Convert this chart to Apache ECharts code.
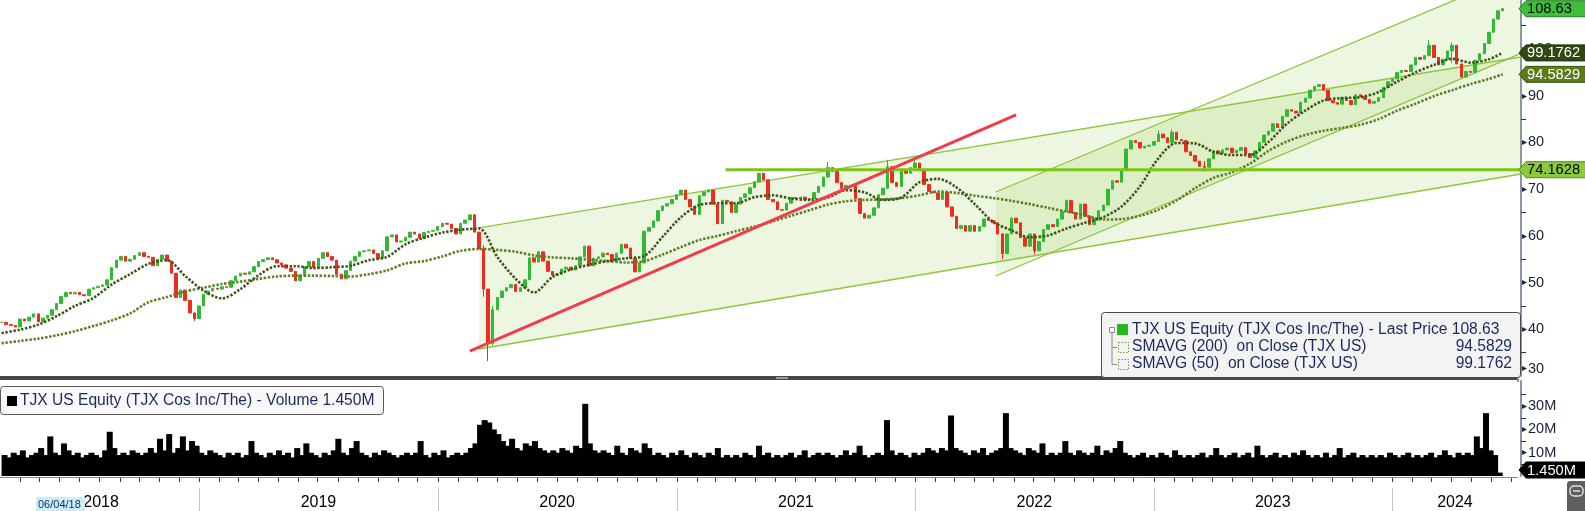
<!DOCTYPE html>
<html><head><meta charset="utf-8">
<script src="https://cdn.jsdelivr.net/npm/echarts@6/dist/echarts.min.js"></script>
<style>html,body{margin:0;padding:0;background:#fff;overflow:hidden}#c{width:1585px;height:511px}</style>
</head><body><div id="c"></div>
<script>
// ---------------- data ----------------
const weekStart = '2018-03-09';           // first weekly candle (Fridays)
const closes = [
41.5,41.0,40.8,40.5,42.2,41.8,42.6,43.3,41.6,42.4,
43.0,44.2,45.5,47.0,47.9,47.6,47.9,47.4,47.2,48.6,
48.9,49.2,49.5,50.6,53.2,54.8,55.6,54.6,55.0,55.8,
56.4,55.6,55.4,53.6,55.0,55.9,54.6,52.0,46.8,48.4,
46.2,43.5,42.3,45.0,47.5,48.2,48.8,48.6,49.1,49.0,
50.4,51.4,52.0,51.8,52.3,53.4,54.5,54.9,55.3,54.9,
54.2,53.8,53.1,52.4,50.4,51.6,53.4,54.5,53.2,55.2,
56.4,55.6,54.8,51.8,50.8,52.6,54.6,55.6,56.6,56.8,
57.0,56.2,55.2,56.8,59.8,60.2,58.7,58.9,59.7,60.8,
60.4,59.5,60.7,61.0,61.2,62.0,62.7,62.5,61.6,60.4,
62.7,63.4,64.5,60.8,57.2,48.6,37.0,44.2,46.8,48.2,
48.9,49.6,48.1,48.9,50.6,55.3,54.4,56.6,54.6,52.4,
51.6,51.8,52.9,53.3,52.7,53.6,55.5,57.8,53.6,55.2,
55.5,56.3,56.0,54.6,56.3,58.2,57.4,55.2,52.3,54.2,
61.0,61.8,63.2,65.4,66.4,66.9,67.8,68.8,69.8,67.8,
66.2,64.6,68.6,69.4,69.8,66.8,62.6,67.6,67.3,65.0,
66.8,68.2,69.0,70.3,71.6,73.4,72.0,67.8,67.3,65.6,
65.5,67.0,68.2,68.0,68.3,67.8,68.0,69.3,70.6,72.6,
74.6,73.8,71.4,70.2,70.8,70.8,68.0,64.8,63.8,64.4,
66.0,68.8,70.2,74.8,71.4,70.6,74.0,73.4,74.6,75.6,
74.0,71.0,69.5,69.2,67.8,69.4,66.2,64.2,61.6,62.2,
61.0,62.2,61.0,62.0,63.6,63.3,62.8,60.4,56.2,60.4,
63.8,62.8,59.6,57.8,60.4,56.8,58.8,61.4,62.4,62.0,
63.6,65.2,67.6,65.0,63.6,66.8,64.2,62.4,63.8,65.4,
66.6,70.0,71.8,71.5,74.0,78.6,80.4,80.0,78.8,79.2,
79.4,80.2,81.8,81.0,80.0,82.2,80.6,80.4,78.0,77.2,
76.0,74.9,74.7,76.5,78.2,77.6,78.4,78.8,77.8,78.3,
78.9,77.6,76.8,78.2,80.0,81.6,82.4,84.0,83.2,85.6,
87.0,86.7,86.3,88.6,89.5,91.2,92.0,92.4,91.2,89.0,
88.5,88.2,89.6,89.0,88.1,90.2,89.8,89.2,88.4,88.8,
89.6,91.8,93.0,93.6,95.0,95.4,95.2,96.6,98.2,97.8,
98.6,100.8,98.2,96.6,97.8,99.6,100.8,96.8,94.0,95.2,
95.0,97.6,99.0,101.2,103.6,106.4,108.2,108.63];

// notable intraweek extremes: [week index, low, high]
const wicks = [
[42,41.8,43.6],[105,47.0,58.0],[106,33.2,48.6],[107,36.5,45.0],[180,72.4,75.8],
[193,70.0,76.3],[199,74.2,76.4],[218,55.0,60.6],[225,56.0,59.6],[252,80.8,82.6],
[255,79.9,82.8],[262,73.8,76.0],[311,98.4,102.0],[316,97.0,101.4]];

const volumesM = [
9,8,10,9,11,8,9,10,12,9,
17,10,9,14,11,9,10,8,9,10,
9,8,11,19,12,9,10,9,11,10,
9,10,12,10,16,11,18,10,12,17,
11,15,13,10,9,11,10,9,8,10,
9,10,8,9,15,10,9,8,10,9,
11,9,10,8,12,9,14,10,9,8,
10,9,11,16,10,9,12,15,10,9,
8,10,9,11,10,9,8,9,10,9,
10,15,9,8,10,9,11,8,9,10,
9,10,12,14,22,24,23,20,18,15,
13,16,12,11,14,13,15,12,11,10,
11,10,12,11,10,13,12,31,14,11,
10,11,10,9,13,10,9,12,11,10,
14,12,9,10,9,8,10,9,11,9,
8,10,9,8,10,9,12,8,9,8,
9,8,10,9,8,13,9,10,8,9,
8,9,10,8,9,11,8,9,10,9,
10,9,8,9,11,9,10,13,9,8,
9,10,9,24,11,9,10,9,8,10,
9,10,12,11,10,12,11,26,12,11,
10,9,11,10,12,9,10,11,12,27,
12,11,10,9,12,11,10,14,9,10,
9,10,15,10,9,11,10,9,10,13,
9,11,10,12,15,10,9,8,9,10,
8,9,8,10,9,8,11,9,8,9,
8,9,10,8,9,12,9,8,9,10,
8,9,10,8,13,9,8,9,10,8,
9,8,10,9,11,9,8,9,8,10,
8,9,12,8,9,10,8,9,8,9,
8,9,8,10,9,8,9,10,8,9,
8,9,10,8,9,11,9,8,10,9,
10,9,17,12,27,11,9,1.45];

// moving averages, one reading every 4 weeks, plus the last week
const sma50 = [
39.2,39.9,41.0,42.8,45.0,46.7,49.6,51.8,54.0,54.8,
51.4,48.3,46.6,48.6,51.6,53.5,53.5,53.1,53.3,53.6,
54.8,55.5,58.2,59.6,60.7,61.3,61.6,55.5,50.8,47.9,
51.2,52.8,53.8,54.6,55.2,55.7,59.8,64.0,66.6,67.0,
67.0,68.3,68.7,68.0,67.7,68.2,69.8,69.3,67.7,68.2,
71.5,72.2,70.4,66.8,63.0,61.2,59.7,60.1,61.6,62.8,
64.0,66.3,70.6,76.6,79.9,79.8,78.0,77.3,77.3,80.1,
84.0,86.8,89.0,89.5,89.7,90.8,93.0,95.0,96.6,97.9,
97.1,97.8,99.1762];
const sma200 = [
37.0,37.5,38.0,38.7,39.6,40.7,41.9,43.4,45.8,46.9,
48.1,48.9,49.7,50.2,50.8,51.3,51.5,51.5,51.4,51.3,
51.8,52.6,54.1,54.6,55.6,56.8,57.2,57.0,56.6,55.8,
55.4,55.2,54.9,54.6,54.3,54.6,56.0,57.6,59.1,60.0,
61.0,62.0,63.1,64.3,65.5,66.7,67.4,67.7,67.8,68.1,
68.7,69.5,69.2,68.6,68.1,67.5,66.8,66.0,65.2,64.4,
63.5,63.6,64.3,65.6,67.6,70.2,72.4,73.6,75.5,78.2,
80.2,81.6,82.5,83.1,83.8,85.0,86.8,88.3,89.9,91.2,
92.5,93.6,94.5829];

const yearLabels = ['2018','2019','2020','2021','2022','2023','2024'];
const priceTickLabels = [30,40,50,60,70,80,90,100];
const volumeTickLabels = [10,20,30];
const xRange = ['2018-03-06T14:24:00Z','2024-07-12T00:00:00Z'];
const startDateText = '06/04/18';

// drawn annotations (date, price)
const channel1 = [['2020-03-06',61.69],['2024-07-12',98.30],['2024-07-12',73.25],['2020-03-06',35.78]];
const channel2 = [['2022-05-03',69.39],['2024-07-12',116.4],['2024-07-12',99.07],['2022-05-03',51.41]];
const redTrend = [['2020-02-21',35.35],['2022-06-03',85.88]];
const resistance = [['2021-03-17',74.1628],['2024-07-12',74.1628]];

const lastPrice = 108.63, lastSma200 = 94.5829, lastSma50 = 99.1762, lastVolumeM = 1.450;

// ---------------- build ----------------
const DAY = 86400000;
const T = s => Date.parse(s.length === 10 ? s + 'T00:00:00Z' : s);
const xMin = T(xRange[0]), xMax = T(xRange[1]);
const t0 = T(weekStart);
const weekTimes = closes.map((_, i) => t0 + i * 7 * DAY);
const wickMap = {};
wicks.forEach(w => { wickMap[w[0]] = w; });
const candles = closes.map((c, i) => {
  const o = i ? closes[i - 1] : c;
  let lo = Math.min(o, c), hi = Math.max(o, c);
  if (wickMap[i]) { lo = Math.min(lo, wickMap[i][1]); hi = Math.max(hi, wickMap[i][2]); }
  return [weekTimes[i], o, c, lo, hi];
});
const smaTimes = sma50.map((_, k) => k < sma50.length - 1 ? weekTimes[k * 4] : weekTimes[weekTimes.length - 1]);
const toPts = arr => arr.map(p => [T(p[0]), p[1]]);
const FONT = 'Liberation Sans';
const AXIS = '#8a94a8';
const EDGE = '#8dc63f';

const option = {
  animation: false,
  backgroundColor: '#ffffff',
  grid: [
    {left: 0, right: 64, top: 0, height: 376},
    {left: 0, right: 64, top: 381, height: 95}
  ],
  xAxis: [
    {type: 'time', gridIndex: 0, min: xMin, max: xMax, show: false},
    {type: 'time', gridIndex: 1, min: xMin, max: xMax, show: false}
  ],
  yAxis: [
    {type: 'value', gridIndex: 0, position: 'right', min: 30, max: 110.5, interval: 10,
      splitLine: {show: false},
      axisLine: {show: true, lineStyle: {color: AXIS, width: 2}},
      axisTick: {show: false},
      minorTick: {show: true, splitNumber: 2, length: 5, lineStyle: {color: '#2a2f45', width: 1}},
      axisLabel: {margin: 1, color: '#1a1f36', fontFamily: FONT, fontSize: 14.5,
        verticalAlignMinLabel: 'bottom',
        formatter: v => priceTickLabels.indexOf(v) >= 0 ? '{t|▸}' + v : '',
        rich: {t: {fontSize: 10, color: '#1a1f36', padding: [0, 1, 0, 0]}}}
    },
    {type: 'value', gridIndex: 1, position: 'right', min: 0, max: 40.8, interval: 10,
      splitLine: {show: false},
      axisLine: {show: true, lineStyle: {color: AXIS, width: 2}},
      axisTick: {show: false},
      minorTick: {show: true, splitNumber: 2, length: 5, lineStyle: {color: '#2a2f45', width: 1}},
      axisLabel: {margin: 1, color: '#1a1f36', fontFamily: FONT, fontSize: 14.5,
        formatter: v => volumeTickLabels.indexOf(v) >= 0 ? '{t|▸}' + v + 'M' : '',
        rich: {t: {fontSize: 10, color: '#1a1f36', padding: [0, 1, 0, 0]}}}
    }
  ],
  series: [
    {type: 'custom', xAxisIndex: 0, yAxisIndex: 0, z: 1, silent: true, clip: true,
      data: [[xMin, 50]],
      renderItem: (params, api) => ({
        type: 'group',
        children: [channel1, channel2].map(ch => ({
          type: 'polygon',
          shape: {points: toPts(ch).map(p => api.coord(p))},
          style: {fill: 'rgba(140,200,60,0.16)'}
        }))
      })
    },
    ...[[channel1[0], channel1[1]], [channel1[3], channel1[2]], [channel2[0], channel2[1]], [channel2[3], channel2[2]]].map(seg => ({
      type: 'line', xAxisIndex: 0, yAxisIndex: 0, z: 2, silent: true, symbol: 'none',
      data: toPts(seg), lineStyle: {color: EDGE, width: 1.3}
    })),
    {type: 'candlestick', xAxisIndex: 0, yAxisIndex: 0, z: 3, barWidth: 3,
      encode: {x: 0, y: [1, 2, 3, 4]},
      data: candles,
      itemStyle: {color: '#33b833', color0: '#ee2b1f', borderColor: '#33b833', borderColor0: '#ee2b1f', borderWidth: 1}
    },
    {type: 'line', xAxisIndex: 0, yAxisIndex: 0, z: 4, symbol: 'none', smooth: 0.3, silent: true,
      data: smaTimes.map((t, i) => [t, sma200[i]]),
      lineStyle: {color: '#5f7f24', width: 2.6, type: [2.4, 1.6]}},
    {type: 'line', xAxisIndex: 0, yAxisIndex: 0, z: 4, symbol: 'none', smooth: 0.3, silent: true,
      data: smaTimes.map((t, i) => [t, sma50[i]]),
      lineStyle: {color: '#3f5518', width: 2.6, type: [2.4, 1.6]}},
    {type: 'line', xAxisIndex: 0, yAxisIndex: 0, z: 5, symbol: 'none', silent: true,
      data: toPts(resistance), lineStyle: {color: '#7cc417', width: 3}},
    {type: 'line', xAxisIndex: 0, yAxisIndex: 0, z: 5, symbol: 'none', silent: true,
      data: toPts(redTrend), lineStyle: {color: '#f03c4b', width: 3}},
    {type: 'bar', xAxisIndex: 1, yAxisIndex: 1, barWidth: 6, silent: true,
      data: volumesM.map((v, i) => [weekTimes[i], v]),
      itemStyle: {color: '#000000'}}
  ]
};

const chart = echarts.init(document.getElementById('c'), null, {renderer: 'canvas'});
chart.setOption(option);

const px = d => chart.convertToPixel({xAxisIndex: 1}, d);
const py = v => chart.convertToPixel({yAxisIndex: 0}, v);
const pv = v => chart.convertToPixel({yAxisIndex: 1}, v);
const axisX = px(xMax);
const g = [];

// panel separator
g.push({type: 'rect', shape: {x: 0, y: 376, width: axisX, height: 4}, style: {fill: '#474747'}, z: 50});
g.push({type: 'rect', shape: {x: 776, y: 377, width: 12, height: 2}, style: {fill: '#9a9a9a'}, z: 51});
g.push({type: 'line', shape: {x1: axisX, y1: 375, x2: axisX, y2: 382}, style: {stroke: AXIS, lineWidth: 2}, z: 51});
// bottom axis line
g.push({type: 'line', shape: {x1: 0, y1: 477.5, x2: axisX, y2: 477.5}, style: {stroke: '#8a8a8a', lineWidth: 1}, z: 50});

// month ticks, year separators, year labels
for (let y = 2018; y <= 2024; y++) {
  for (let m = 0; m < 12; m++) {
    const t = Date.UTC(y, m, 1);
    if (t <= xMin || t >= xMax) continue;
    const x = Math.round(px(t)) + 0.5;
    g.push({type: 'line', shape: {x1: x, y1: 478, x2: x, y2: 482}, style: {stroke: '#333', lineWidth: 1}, z: 50});
  }
}
yearLabels.forEach(lbl => {
  const y = +lbl;
  const a = Math.max(Date.UTC(y, 0, 1), xMin), b = Math.min(Date.UTC(y + 1, 0, 1), xMax);
  const xa = px(a), xb = px(b);
  if (Date.UTC(y, 0, 1) > xMin) {
    const x = Math.round(xa) + 0.5;
    g.push({type: 'line', shape: {x1: x, y1: 488, x2: x, y2: 511}, style: {stroke: '#c4c4c4', lineWidth: 1}, z: 50});
  }
  g.push({type: 'text', x: (xa + xb) / 2, y: 503, style: {text: lbl, fill: '#000', font: '16px "' + FONT + '"', textAlign: 'center', textVerticalAlign: 'middle'}, z: 52});
});
g.push({type: 'rect', shape: {x: 36, y: 497, width: 49, height: 14}, style: {fill: '#c9eef8'}, z: 53});
g.push({type: 'text', x: 38, y: 504.5, style: {text: startDateText, fill: '#1a2a5c', font: '11px "' + FONT + '"', textVerticalAlign: 'middle'}, z: 54});

// right-side value tags
function tag(yc, text, fill, stroke, color) {
  g.push({type: 'polygon', shape: {points: [[axisX + 1, yc], [axisX + 8, yc - 8], [1586, yc - 8], [1586, yc + 8], [axisX + 8, yc + 8]]},
    style: {fill: fill, stroke: stroke, lineWidth: 1}, z: 60});
  g.push({type: 'text', x: axisX + 9, y: yc + 0.5, style: {text: text, fill: color, font: '14.7px "' + FONT + '"', textVerticalAlign: 'middle'}, z: 61});
}
tag(py(lastPrice), lastPrice.toFixed(2), '#3dbf3d', '#1f7a1f', '#000');
tag(py(lastSma50), lastSma50.toFixed(4), '#2f4a10', '#1c2d08', '#fff');
tag(py(lastSma200), lastSma200.toFixed(4), '#5a7d17', '#3b560c', '#fff');
tag(py(resistance[0][1]), resistance[0][1].toFixed(4), '#8acb3a', '#4f8a14', '#000');
tag(Math.min(pv(lastVolumeM), 470), lastVolumeM.toFixed(3) + 'M', '#000', '#000', '#fff');

// price legend box
const LF = '15.6px "' + FONT + '"', LC = '#1a2a5c';
g.push({type: 'rect', shape: {x: 1101.5, y: 312.5, width: 419, height: 65, r: 3}, style: {fill: '#f3f3f3', stroke: '#4a4a4a', lineWidth: 1}, z: 70});
g.push({type: 'rect', shape: {x: 1109.5, y: 327.5, width: 5, height: 5}, style: {fill: '#fff', stroke: '#8a8a8a', lineWidth: 1}, z: 71});
g.push({type: 'polyline', shape: {points: [[1112, 333], [1112, 364.5], [1117, 364.5]]}, style: {stroke: '#8a8a8a', lineWidth: 1, fill: null}, z: 71});
g.push({type: 'line', shape: {x1: 1112, y1: 347.5, x2: 1117, y2: 347.5}, style: {stroke: '#8a8a8a', lineWidth: 1}, z: 71});
g.push({type: 'rect', shape: {x: 1117, y: 324, width: 11, height: 11}, style: {fill: '#22bb22'}, z: 71});
[347.5, 364.5].forEach(yc => g.push({type: 'rect', shape: {x: 1118.5, y: yc - 5, width: 10, height: 10}, style: {fill: null, stroke: '#7d9c3c', lineWidth: 1, lineDash: [1.5, 1.5]}, z: 71}));
g.push({type: 'text', x: 1132, y: 330, style: {text: 'TJX US Equity (TJX Cos Inc/The) - Last Price ' + lastPrice.toFixed(2), fill: LC, font: LF, textVerticalAlign: 'middle'}, z: 72});
g.push({type: 'text', x: 1132, y: 347, style: {text: 'SMAVG (200)  on Close (TJX US)', fill: LC, font: LF, textVerticalAlign: 'middle'}, z: 72});
g.push({type: 'text', x: 1132, y: 364, style: {text: 'SMAVG (50)  on Close (TJX US)', fill: LC, font: LF, textVerticalAlign: 'middle'}, z: 72});
g.push({type: 'text', x: 1512, y: 347, style: {text: lastSma200.toFixed(4), fill: LC, font: LF, textAlign: 'right', textVerticalAlign: 'middle'}, z: 72});
g.push({type: 'text', x: 1512, y: 364, style: {text: lastSma50.toFixed(4), fill: LC, font: LF, textAlign: 'right', textVerticalAlign: 'middle'}, z: 72});

// volume legend box
g.push({type: 'rect', shape: {x: 0.5, y: 386.5, width: 383, height: 28, r: 3}, style: {fill: '#f8f8f8', stroke: '#5a5a5a', lineWidth: 1}, z: 70});
g.push({type: 'rect', shape: {x: 7, y: 396, width: 10, height: 10}, style: {fill: '#000'}, z: 71});
g.push({type: 'text', x: 20, y: 401, style: {text: 'TJX US Equity (TJX Cos Inc/The) - Volume ' + lastVolumeM.toFixed(3) + 'M', fill: LC, font: LF, textVerticalAlign: 'middle'}, z: 72});

// small button bottom right
g.push({type: 'rect', shape: {x: 1567, y: 481, width: 20, height: 32, r: 3}, style: {fill: '#5e5e5e'}, z: 70});
g.push({type: 'rect', shape: {x: 1570, y: 486, width: 13, height: 10, r: 4}, style: {fill: null, stroke: '#e0e0e0', lineWidth: 1.5}, z: 71});
g.push({type: 'line', shape: {x1: 1573, y1: 491, x2: 1580, y2: 491}, style: {stroke: '#e0e0e0', lineWidth: 1.5}, z: 71});

chart.setOption({graphic: g});
</script>
</body></html>
